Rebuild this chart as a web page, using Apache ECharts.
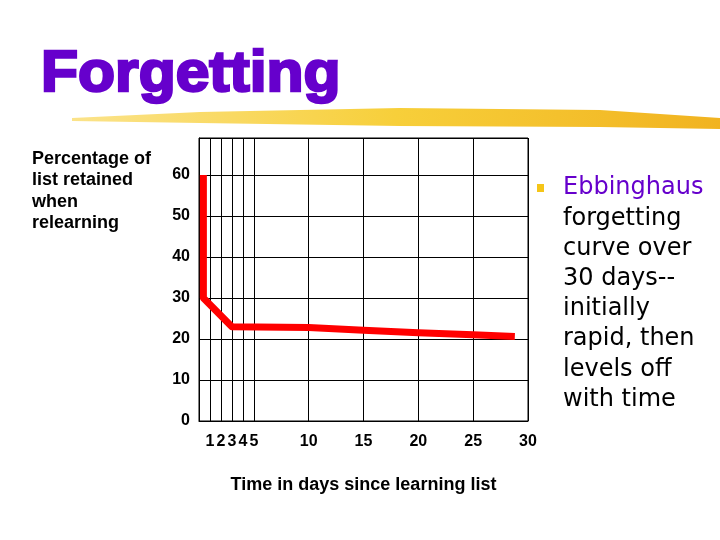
<!DOCTYPE html>
<html>
<head>
<meta charset="utf-8">
<script src="https://cdn.jsdelivr.net/npm/echarts@6/dist/echarts.min.js"></script>
<style>
  html, body { margin: 0; padding: 0; background: #fff; }
  #chart { width: 720px; height: 540px; }
</style>
</head>
<body>
<div id="chart"></div>
<script>
// days since learning and percent retained
var days = [0.4, 0.4, 3, 10, 15, 20, 25, 28.8];
var retained = [60, 30, 23, 22.8, 22.1, 21.5, 21.0, 20.6];

// tick labels
var xTicks = [1, 2, 3, 4, 5, 10, 15, 20, 25, 30];
var yTicks = [0, 10, 20, 30, 40, 50, 60];

var sideLines = [
  "forgetting",
  "curve over",
  "30 days--",
  "initially",
  "rapid, then",
  "levels off",
  "with time",
];

var xLineColors = [];
for (var i = 0; i <= 30; i++) {
  xLineColors.push(xTicks.indexOf(i) >= 0 ? "#000" : "rgba(0,0,0,0)");
}

var chart = echarts.init(document.getElementById("chart"));

var option = {
  backgroundColor: "#fff",
  animation: false,
  grid: {
    left: 199,
    top: 138,
    width: 329,
    height: 283,
    show: true,
    borderColor: "#000",
    borderWidth: 1,
  },
  xAxis: {
    type: "value",
    min: 0,
    max: 30,
    interval: 1,
    name: "Time in days since learning list",
    nameLocation: "middle",
    nameGap: 55,
    nameTextStyle: {
      fontFamily: "Liberation Sans",
      fontWeight: "bold",
      fontSize: 18,
      color: "#000",
    },
    axisLine: { show: true, lineStyle: { color: "#000", width: 1 } },
    axisTick: { show: false },
    splitLine: {
      show: true,
      lineStyle: { color: xLineColors, width: 1 },
    },
    axisLabel: {
      margin: 13,
      fontFamily: "Liberation Sans",
      fontWeight: "bold",
      fontSize: 16,
      color: "#000",
      formatter: function (v) {
        return xTicks.indexOf(v) >= 0 ? String(v) : "";
      },
    },
  },
  yAxis: {
    type: "value",
    min: 0,
    max: 69,
    interval: 10,
    axisLine: { show: true, lineStyle: { color: "#000", width: 1 } },
    axisTick: { show: false },
    splitLine: { show: true, lineStyle: { color: "#000", width: 1 } },
    axisLabel: {
      margin: 9,
      fontFamily: "Liberation Sans",
      fontWeight: "bold",
      fontSize: 16,
      color: "#000",
      formatter: function (v) {
        return yTicks.indexOf(v) >= 0 ? String(v) : "";
      },
    },
  },
  series: [
    {
      type: "line",
      data: days.map(function (d, i) {
        return [d, retained[i]];
      }),
      symbol: "none",
      lineStyle: { color: "#ff0000", width: 7, cap: "butt", join: "round" },
    },
  ],
  graphic: [
    {
      // yellow brush stroke under the title
      type: "polygon",
      z: 1,
      shape: {
        points: [
          [72, 118], [200, 112], [400, 108], [600, 110], [720, 118],
          [720, 129], [600, 127], [400, 126], [200, 123], [72, 121],
        ],
      },
      style: {
        fill: {
          type: "linear",
          x: 0, y: 0, x2: 1, y2: 0,
          colorStops: [
            { offset: 0, color: "#fbe38a" },
            { offset: 0.5, color: "#f7cf3a" },
            { offset: 1, color: "#f1b320" },
          ],
        },
      },
    },
    {
      // heavy title
      type: "text",
      x: 41,
      y: 75,
      scaleX: 1.045,
      z: 2,
      style: {
        text: "Forgetting",
        x: 0,
        y: 0,
        verticalAlign: "middle",
        fontFamily: "Liberation Sans",
        fontWeight: "bold",
        fontSize: 58,
        fill: "#6600cc",
        stroke: "#6600cc",
        lineWidth: 2.5,
      },
    },
    {
      type: "text",
      left: 32,
      top: 148,
      style: {
        text: "Percentage of\nlist retained\nwhen\nrelearning",
        fontFamily: "Liberation Sans",
        fontWeight: "bold",
        fontSize: 18,
        lineHeight: 21.5,
        fill: "#000",
      },
    },
    {
      type: "rect",
      shape: { x: 537, y: 184, width: 7, height: 8 },
      style: { fill: "#f5c518" },
    },
    {
      type: "text",
      left: 563,
      top: 173,
      style: {
        text: "{p|Ebbinghaus}\n" + sideLines.join("\n"),
        fontFamily: "DejaVu Sans",
        fontSize: 24,
        lineHeight: 30.2,
        fill: "#000",
        rich: {
          p: {
            fontFamily: "DejaVu Sans",
            fontSize: 24,
            lineHeight: 30.2,
            fill: "#6600cc",
          },
        },
      },
    },
  ],
};

chart.setOption(option);
</script>
</body>
</html>
